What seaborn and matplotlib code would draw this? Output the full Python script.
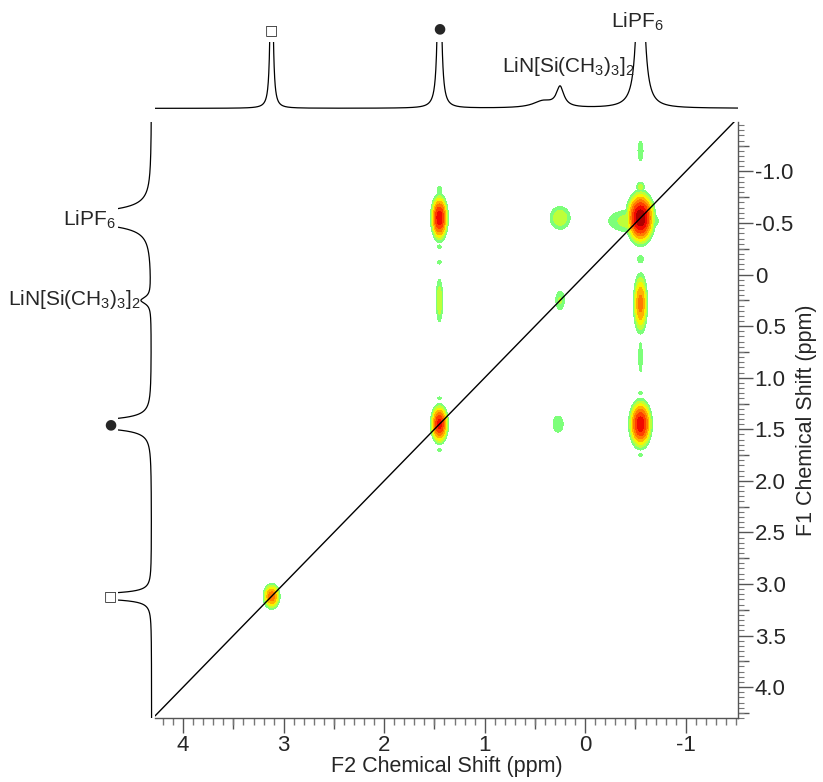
import numpy as np
import pandas as pd
import matplotlib
matplotlib.use("Agg")
import matplotlib.pyplot as plt
import seaborn as sns
from matplotlib.transforms import blended_transform_factory
from matplotlib.ticker import FixedLocator, FixedFormatter, MultipleLocator, NullFormatter

# ---------------- data ----------------
# axis ranges (ppm)
f2_range = [4.28, -1.52]
f1_range = [4.3, -1.48]

# 2D cross/diagonal peaks: F2 position, F1 position, relative intensity, widths (ppm)
pk_f2 = [-0.55, -0.48, 1.45, 1.45, -0.55, 3.12, 0.25, 0.25, 0.27, 1.45, -0.55, -0.55, -0.55,
         1.45, 1.45, 1.45, -0.55, -0.55, 1.45, 1.45, -0.55, -0.55]
pk_f1 = [-0.55, -0.52, -0.55, 1.45, 1.45, 3.12, -0.55, 0.25, 1.45, 0.25, 0.28, -1.2, 0.8,
         -0.82, -0.27, -0.12, -0.85, -0.15, 1.2, 1.7, 1.15, 1.75]
pk_amp = [1.0, 0.57, 0.92, 0.90, 0.92, 0.78, 0.58, 0.53, 0.50, 0.58, 0.76, 0.50, 0.48,
          0.50, 0.48, 0.48, 0.55, 0.50, 0.48, 0.48, 0.48, 0.48]
pk_w2 = [0.12, 0.36, 0.075, 0.077, 0.10, 0.081, 0.14, 0.075, 0.11, 0.045, 0.07, 0.055, 0.05,
         0.05, 0.05, 0.05, 0.06, 0.06, 0.05, 0.05, 0.05, 0.05]
pk_w1 = [0.22, 0.16, 0.20, 0.17, 0.21, 0.12, 0.155, 0.155, 0.17, 0.29, 0.29, 0.21, 0.40,
         0.07, 0.05, 0.05, 0.07, 0.08, 0.04, 0.04, 0.04, 0.04]
contour_levels = [0.45, 0.52, 0.59, 0.66, 0.73, 0.80, 0.87, 0.94, 2.0]

# 1D projection on top (F2)
top_pos = [3.12, 1.45, 0.42, 0.25, -0.55]
top_amp = [4.0, 4.0, 0.10, 0.30, 4.0]
top_wid = [0.011, 0.015, 0.12, 0.045, 0.03]

# 1D projection on the left (F1)
left_pos = [-0.55, 0.25, 1.45, 3.12]
left_amp = [5.0, 0.30, 5.0, 5.0]
left_wid = [0.045, 0.04, 0.028, 0.018]

# tick labels
f2_ticks = [4, 3, 2, 1, 0, -1]
f2_labels = ["4", "3", "2", "1", "0", "-1"]
f1_ticks = [-1.0, -0.5, 0, 0.5, 1.0, 1.5, 2.0, 2.5, 3.0, 3.5, 4.0]
f1_labels = ["-1.0", "-0.5", "0", "0.5", "1.0", "1.5", "2.0", "2.5", "3.0", "3.5", "4.0"]

# ---------------- style ----------------
sns.set_theme(style="white")
plt.rcParams['font.family'] = ['Liberation Sans', 'DejaVu Sans']
plt.rcParams['mathtext.fontset'] = 'custom'
plt.rcParams['mathtext.rm'] = 'Liberation Sans'
plt.rcParams['mathtext.it'] = 'Liberation Sans:italic'
plt.rcParams['axes.facecolor'] = 'white'

W, H = 823, 782
fig = plt.figure(figsize=(W / 100, H / 100), dpi=100)

def fx(px):
    return px / W

def fy(py):
    return 1 - py / H

ax = fig.add_axes([fx(155), fy(718), fx(738) - fx(155), fy(122) - fy(718)])
axt = fig.add_axes([fx(155), fy(115), fx(738) - fx(155), fy(42) - fy(115)])
axl = fig.add_axes([fx(118), fy(718), fx(155) - fx(118), fy(122) - fy(718)])

# ---------------- 2D contour ----------------
gx = np.linspace(-1.7, 4.5, 700)
gy = np.linspace(-1.7, 4.5, 700)
X, Y = np.meshgrid(gx, gy)
Z = np.zeros_like(X)
for a, b, A, s2, s1 in zip(pk_f2, pk_f1, pk_amp, pk_w2, pk_w1):
    Z = np.maximum(Z, A * np.exp(-((X - a) ** 2) / (2 * s2 ** 2) - ((Y - b) ** 2) / (2 * s1 ** 2)))
jet = plt.get_cmap('jet')
band_colors = [jet(v) for v in [0.5, 0.58, 0.65, 0.72, 0.78, 0.84, 0.90, 0.96]]
ax.contourf(X, Y, Z, levels=contour_levels, colors=band_colors, antialiased=False)

diag = pd.DataFrame({"f2": [f2_range[0], f2_range[1]], "f1": [f2_range[0], f2_range[1]]})
sns.lineplot(data=diag, x="f2", y="f1", ax=ax, color="black", lw=1.0, sort=False, estimator=None)

ax.set_xlim(f2_range)
ax.set_ylim(f1_range)
for s in ['top', 'left']:
    ax.spines[s].set_visible(False)
for s in ['bottom', 'right']:
    ax.spines[s].set_color('#555555')
    ax.spines[s].set_linewidth(1.0)

ax.xaxis.set_major_locator(FixedLocator(f2_ticks))
ax.xaxis.set_major_formatter(FixedFormatter(f2_labels))
ax.xaxis.set_minor_locator(MultipleLocator(0.1))
ax.yaxis.tick_right()
ax.yaxis.set_label_position('right')
ax.yaxis.set_major_locator(FixedLocator(f1_ticks))
ax.yaxis.set_major_formatter(FixedFormatter(f1_labels))
ax.yaxis.set_minor_locator(MultipleLocator(0.05))
ax.tick_params(axis='x', which='major', direction='out', length=11, width=1, color='#555555',
               labelsize=16, pad=1, bottom=True)
ax.tick_params(axis='x', which='minor', direction='out', length=5, width=1, color='#777777', bottom=True)
ax.tick_params(axis='y', which='major', direction='out', length=11, width=1, color='#555555',
               labelsize=16, pad=1, right=True, left=False)
ax.tick_params(axis='y', which='minor', direction='out', length=4, width=0.8, color='#777777',
               right=True, left=False)
# medium ticks
secx = ax.secondary_xaxis('bottom')
secx.set_xticks([3.5, 2.5, 1.5, 0.5, -0.5])
secx.xaxis.set_major_formatter(NullFormatter())
secx.tick_params(direction='out', length=8, width=1, color='#555555')
secx.spines['bottom'].set_visible(False)
secy = ax.secondary_yaxis('right')
secy.set_yticks([-1.25, -0.75, -0.25, 0.25, 0.75, 1.25, 1.75, 2.25, 2.75, 3.25, 3.75, 4.25])
secy.yaxis.set_major_formatter(NullFormatter())
secy.tick_params(direction='out', length=8, width=1, color='#555555')
secy.spines['right'].set_visible(False)

ax.set_xlabel("F2 Chemical Shift (ppm)", fontsize=15.5, labelpad=0)
ax.set_ylabel("F1 Chemical Shift (ppm)", fontsize=15.5, labelpad=2, rotation=90)
ax.grid(False)

# ---------------- top projection ----------------
xs = np.linspace(-1.7, 4.5, 6000)
top = np.zeros_like(xs)
for p, A, g in zip(top_pos, top_amp, top_wid):
    top += A * g ** 2 / (g ** 2 + (xs - p) ** 2)
sns.lineplot(x=xs, y=top, ax=axt, color="black", lw=0.9, sort=False, estimator=None)
axt.set_xlim(f2_range)
axt.set_ylim(-0.1, 1.0)
axt.set_axis_off()

# ---------------- left projection ----------------
ys = np.linspace(-1.7, 4.5, 6000)
left = np.zeros_like(ys)
for p, A, g in zip(left_pos, left_amp, left_wid):
    left += A * g ** 2 / (g ** 2 + (ys - p) ** 2)
sns.lineplot(x=left, y=ys, ax=axl, color="black", lw=0.9, sort=False, estimator=None)
axl.set_ylim(f1_range)
axl.set_xlim(1.0, -0.1)
axl.set_axis_off()

# ---------------- annotations ----------------
sym = ['DejaVu Sans']
tt = blended_transform_factory(axt.transData, fig.transFigure)
axt.text(top_pos[0], fy(30), "\u25a1", transform=tt, ha='center', va='center', fontsize=10,
         family=sym, clip_on=False)
axt.text(top_pos[1], fy(28), "\u25cf", transform=tt, ha='center', va='center', fontsize=10,
         family=sym, clip_on=False)
axt.text(top_pos[4] + 0.03, fy(22), "LiPF$\\mathregular{_6}$", transform=tt, ha='center',
         va='center', fontsize=15, clip_on=False)
axt.text(0.17, fy(66), "LiN[Si(CH$\\mathregular{_3}$)$\\mathregular{_3}$]$\\mathregular{_2}$",
         transform=tt, ha='center', va='center', fontsize=15, clip_on=False)

lt = blended_transform_factory(fig.transFigure, ax.transData)
ax.text(fx(116), left_pos[0] + 0.02, "LiPF$\\mathregular{_6}$", transform=lt, ha='right',
        va='center', fontsize=15, clip_on=False)
ax.text(fx(141), left_pos[1] - 0.01, "LiN[Si(CH$\\mathregular{_3}$)$\\mathregular{_3}$]$\\mathregular{_2}$",
        transform=lt, ha='right', va='center', fontsize=15, clip_on=False)
ax.text(fx(110), left_pos[2], "\u25cf", transform=lt, ha='center', va='center', fontsize=10,
        family=sym, clip_on=False)
ax.text(fx(110), left_pos[3], "\u25a1", transform=lt, ha='center', va='center', fontsize=10,
        family=sym, clip_on=False)

fig.savefig("out.png", dpi=100, facecolor='white')
